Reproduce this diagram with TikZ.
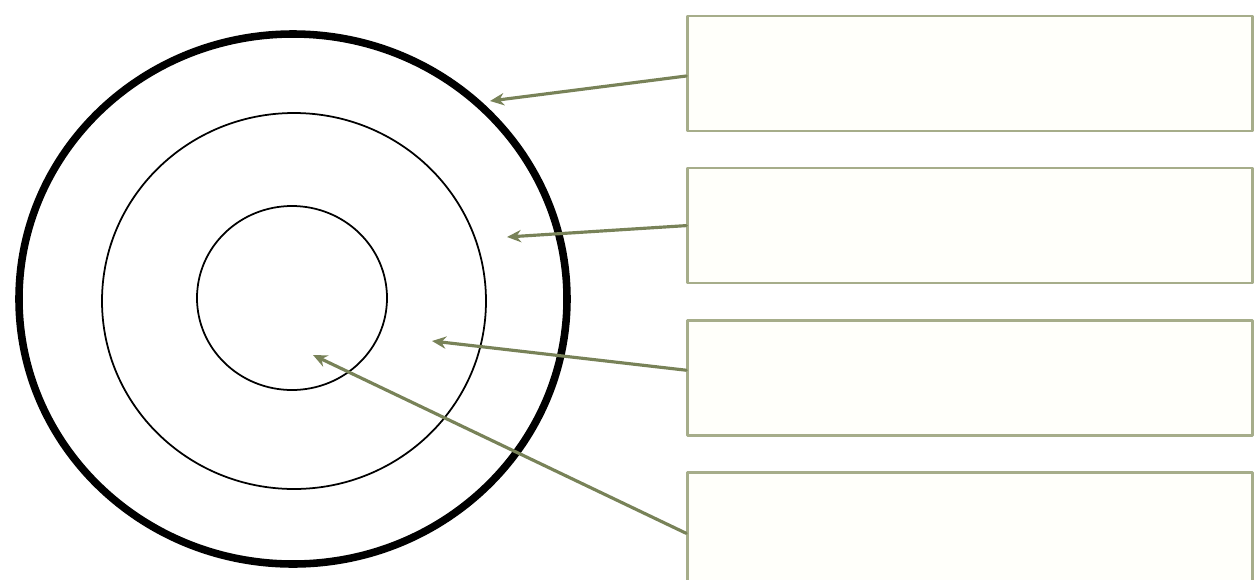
\documentclass[tikz,border=0pt]{standalone}
\usetikzlibrary{arrows.meta}
\usetikzlibrary{positioning}

\definecolor{arrowolive}{RGB}{120,130,88}
\definecolor{boxline}{RGB}{166,173,138}
\definecolor{boxfill}{RGB}{255,255,250}

\begin{document}
\begin{tikzpicture}[x=0.02cm, y=-0.02cm, line cap=round, line join=round, >={Stealth[length=8pt, width=7pt]},
		labelbox/.style={draw=boxline, fill=boxfill, line width=1.5pt, minimum width=11.3cm, minimum height=2.3cm, inner sep=0pt},
		pointer/.style={->, draw=arrowolive, line width=1.8pt}]
			\useasboundingbox (0,0) rectangle (1255,579);
			% circles
			\draw [line width=4.3pt] (293,299) ellipse [x radius=274, y radius=265];
			\draw [line width=1pt] (294,301) ellipse [x radius=192, y radius=188];
			\draw [line width=1pt] (292,298) ellipse [x radius=95, y radius=92];
			% tips
			\coordinate (t1) at (490,101);
			\coordinate (t2) at (507,237);
			\coordinate (t3) at (432,341);
			\coordinate (t4) at (313,355);
			% boxes
			\node [labelbox] (box1) at (970,73.5) {};
			\node [labelbox, below=0.69cm of box1] (box2) {};
			\node [labelbox, below=0.69cm of box2] (box3) {};
			\node [labelbox, below=0.69cm of box3] (box4) {};
			% arrows
			\draw [pointer] ([yshift=-0.05cm]box1.west) -- (t1);
			\draw [pointer] (box2.west) -- (t2);
			\draw [pointer] ([yshift=0.15cm]box3.west) -- (t3);
			\draw [pointer] ([yshift=-0.07cm]box4.west) -- (t4);
		\end{tikzpicture}
\end{document}
